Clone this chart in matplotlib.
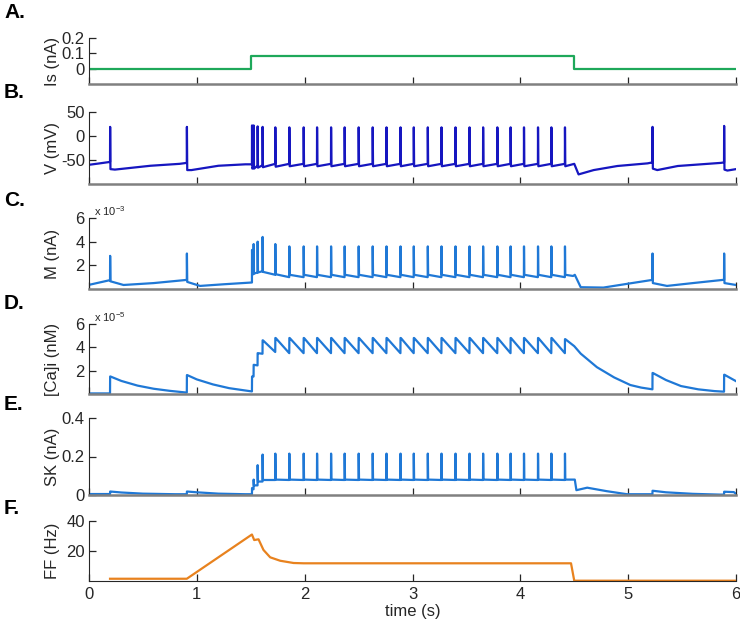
import numpy as np
import matplotlib
matplotlib.use('Agg')
import matplotlib.pyplot as plt

plt.rcParams['font.family'] = ['Liberation Sans', 'DejaVu Sans']
plt.rcParams['mathtext.fontset'] = 'custom'
plt.rcParams['mathtext.rm'] = 'Liberation Sans'
plt.rcParams['mathtext.it'] = 'Liberation Sans:italic'

# spike times (s)
spike_t = [0.195, 0.907, 1.511, 1.526, 1.563, 1.609, 1.727,
           1.857, 1.990, 2.114, 2.244, 2.370, 2.500, 2.630, 2.758, 2.888, 3.011,
           3.141, 3.268, 3.398, 3.528, 3.654, 3.786, 3.909, 4.033, 4.163, 4.287, 4.413,
           5.225, 5.889]

# A. injected current
is_t = [0.0, 1.5, 1.5, 4.5, 4.5, 6.0]
is_v = [0.0, 0.0, 0.08, 0.08, 0.0, 0.0]

# B. membrane voltage: slow part + value before / at peak / after each spike
v_slow_t = [0.0, 0.10, 0.24, 0.57, 0.84, 0.95, 1.20, 1.45,
            4.50, 4.54, 4.68, 4.90, 5.18, 5.27, 5.46, 5.86, 5.92, 6.0]
v_slow_v = [-60, -57, -70, -62, -58, -71, -62, -59,
            -58, -80, -71, -62.5, -57, -71, -62.5, -56, -72, -69]
v_pre = [-54, -56, -59, -63, -62, -61, -58,
         -58, -58, -58, -58, -58, -58, -58, -58, -58, -58,
         -58, -58, -58, -58, -58, -58, -58, -58, -58, -58, -58,
         -55, -55]
v_peak = [19, 19, 22, 22, 20, 19, 18,
          18, 18, 18, 18, 18, 18, 18, 18, 18, 18,
          18, 18, 18, 18, 18, 18, 18, 18, 18, 18, 18,
          19, 21]
v_post = [-69, -71, -68, -68, -66, -65, -64,
          -63, -63, -63, -63, -63, -63, -63, -63, -63, -63,
          -63, -63, -63, -63, -63, -63, -63, -63, -63, -63, -63,
          -68, -70]

# C. M current (x 1e-3 nA)
m_slow_t = [0.0, 0.32, 0.60, 1.03, 1.25, 4.49, 4.505, 4.56, 4.77, 5.00,
            5.36, 5.60, 6.0]
m_slow_v = [0.35, 0.34, 0.50, 0.26, 0.40, 1.10, 1.20, 0.15, 0.12, 0.45,
            0.26, 0.50, 0.34]
m_pre = [0.75, 0.77, 0.55, 1.3, 1.4, 1.5, 1.2,
         1.0, 1.0, 1.0, 1.0, 1.0, 1.0, 1.0, 1.0, 1.0, 1.0,
         1.0, 1.0, 1.0, 1.0, 1.0, 1.0, 1.0, 1.0, 1.0, 1.0, 1.0,
         0.77, 0.78]
m_peak = [2.8, 3.0, 3.3, 3.8, 4.0, 4.4, 3.8,
          3.6, 3.6, 3.6, 3.6, 3.6, 3.6, 3.6, 3.6, 3.6, 3.6,
          3.6, 3.6, 3.6, 3.6, 3.6, 3.6, 3.6, 3.6, 3.6, 3.6, 3.6,
          3.0, 3.0]
m_post = [0.65, 0.6, 1.2, 1.3, 1.4, 1.45, 1.25,
          1.2, 1.2, 1.2, 1.2, 1.2, 1.2, 1.2, 1.2, 1.2, 1.2,
          1.2, 1.2, 1.2, 1.2, 1.2, 1.2, 1.2, 1.2, 1.2, 1.2, 1.2,
          0.5, 0.5]

# D. intracellular calcium (x 1e-5 nM)
ca_slow_t = [0.0, 0.30, 0.45, 0.60, 0.75, 1.00, 1.15, 1.30, 1.45,
             4.50, 4.56, 4.71, 4.87, 5.02, 5.12, 5.35, 5.49, 5.65, 5.80, 6.0]
ca_slow_v = [0.05, 1.12, 0.72, 0.45, 0.27, 1.25, 0.82, 0.50, 0.30,
             4.10, 3.46, 2.30, 1.42, 0.77, 0.55, 1.20, 0.68, 0.40, 0.25, 1.10]
ca_pre = [0.05, 0.12, 0.22, 1.5, 2.45, 3.45, 3.6,
          3.5, 3.5, 3.5, 3.5, 3.5, 3.5, 3.5, 3.5, 3.5, 3.5,
          3.5, 3.5, 3.5, 3.5, 3.5, 3.5, 3.5, 3.5, 3.5, 3.5, 3.5,
          0.4, 0.2]
ca_jump = [1.5, 1.62, 1.5, 2.5, 3.5, 4.6, 4.8,
           4.8, 4.8, 4.8, 4.8, 4.8, 4.8, 4.8, 4.8, 4.8, 4.8,
           4.8, 4.8, 4.8, 4.8, 4.8, 4.8, 4.8, 4.8, 4.8, 4.8, 4.7,
           1.8, 1.65]

# E. SK current (nA)
sk_slow_t = [0.0, 0.30, 0.50, 0.80, 1.00, 1.20, 1.45,
             4.505, 4.52, 4.62, 4.80, 4.99, 5.35, 5.60, 5.85, 5.98, 6.0]
sk_slow_v = [0.005, 0.013, 0.007, 0.004, 0.014, 0.007, 0.004,
             0.08, 0.025, 0.038, 0.02, 0.004, 0.014, 0.006, 0.002, 0.015, 0.006]
sk_pre = [0.005, 0.004, 0.004, 0.03, 0.05, 0.07, 0.078,
          0.078, 0.078, 0.078, 0.078, 0.078, 0.078, 0.078, 0.078, 0.078, 0.078,
          0.078, 0.078, 0.078, 0.078, 0.078, 0.078, 0.078, 0.078, 0.078, 0.078, 0.078,
          0.004, 0.002]
sk_peak = [0.018, 0.018, 0.036, 0.08, 0.155, 0.21, 0.215,
           0.215, 0.215, 0.215, 0.215, 0.215, 0.215, 0.215, 0.215, 0.215, 0.215,
           0.215, 0.215, 0.215, 0.215, 0.215, 0.215, 0.215, 0.215, 0.215, 0.215, 0.215,
           0.022, 0.017]
sk_post = [0.018, 0.018, 0.03, 0.05, 0.07, 0.078, 0.08,
           0.08, 0.08, 0.08, 0.08, 0.08, 0.08, 0.08, 0.08, 0.08, 0.08,
           0.08, 0.08, 0.08, 0.08, 0.08, 0.08, 0.08, 0.08, 0.08, 0.08, 0.08,
           0.022, 0.017]

# F. firing frequency (Hz)
ff_t = [0.195, 0.907, 1.511, 1.532, 1.572, 1.618, 1.68, 1.773, 1.897, 1.99, 4.47, 4.5, 6.0]
ff_v = [1.5, 1.5, 31, 27.3, 27.8, 20.7, 15.8, 13.5, 12.0, 11.8, 11.8, 0.2, 0.2]


def trace(slow_t, slow_v, pre, peak, post):
	pts = list(zip(slow_t, slow_v))
	for t, a, b, c in zip(spike_t, pre, peak, post):
		pts += [(t, a), (t + 0.001, b), (t + 0.004, c)]
	pts.sort(key=lambda p: p[0])
	return np.array(pts).T


fig = plt.figure(figsize=(7.4, 6.24), dpi=100)
L, W = 89 / 740, 647 / 740
# (top, bottom) in pixels for each panel
boxes = [(38, 84), (112, 184), (218, 289), (324, 394), (418, 495), (521, 581)]
axes = []
for top, bot in boxes:
	ax = fig.add_axes([L, 1 - bot / 624, W, (bot - top) / 624])
	axes.append(ax)

blue = '#1f78d6'
lw = 1.6
axes[0].plot(is_t, is_v, color='#1ea85a', lw=lw)
x, y = trace(v_slow_t, v_slow_v, v_pre, v_peak, v_post)
axes[1].plot(x, y, color='#1616c0', lw=lw)
x, y = trace(m_slow_t, m_slow_v, m_pre, m_peak, m_post)
axes[2].plot(x, y, color=blue, lw=lw)
x, y = trace(ca_slow_t, ca_slow_v, ca_pre, ca_jump, ca_jump)
axes[3].plot(x, y, color=blue, lw=lw)
x, y = trace(sk_slow_t, sk_slow_v, sk_pre, sk_peak, sk_post)
axes[4].plot(x, y, color=blue, lw=lw)
axes[5].plot(ff_t, ff_v, color='#e8821e', lw=lw)

ylims = [(-0.1, 0.2), (-100, 50), (0, 6), (0, 6), (0, 0.4), (0, 40)]
yticks = [[0, 0.1, 0.2], [-50, 0, 50], [2, 4, 6], [2, 4, 6], [0, 0.2, 0.4], [20, 40]]
ytl = [['0', '0.1', '0.2'], ['-50', '0', '50'], ['2', '4', '6'], ['2', '4', '6'],
       ['0', '0.2', '0.4'], ['20', '40']]
ylabels = ['Is (nA)', 'V (mV)', 'M (nA)', '[Ca]i (nM)', 'SK (nA)', 'FF (Hz)']
letters = ['A.', 'B.', 'C.', 'D.', 'E.', 'F.']
letter_y = [13, 93, 201, 303, 405, 508]

for i, ax in enumerate(axes):
	ax.set_xlim(0, 6)
	ax.set_ylim(*ylims[i])
	ax.set_yticks(yticks[i])
	ax.set_yticklabels(ytl[i])
	ax.set_xticks([0, 1, 2, 3, 4, 5, 6])
	ax.spines['top'].set_visible(False)
	ax.spines['right'].set_visible(False)
	ax.spines['left'].set_color('#262626')
	ax.tick_params(direction='in', length=5, width=0.9, labelsize=12, colors='#262626', pad=3)
	ax.set_ylabel(ylabels[i], fontsize=12, color='#262626')
	ax.yaxis.set_label_coords(-0.045, 0.5)
	fig.text(4 / 740, 1 - letter_y[i] / 624, letters[i], fontsize=15, fontweight='bold',
	         va='center', ha='left')
	if i < 5:
		ax.spines['bottom'].set_color('#808080')
		ax.spines['bottom'].set_linewidth(1.8)
		ax.set_xticklabels([])
	else:
		ax.spines['bottom'].set_color('#262626')
		ax.tick_params(axis='x', pad=4)
		ax.set_xlabel('time (s)', fontsize=12, color='#262626', labelpad=2)

axes[2].text(0.008, 1.0, r'x 10$^{-3}$', transform=axes[2].transAxes, fontsize=8,
             color='#262626', va='bottom', ha='left')
axes[3].text(0.008, 1.0, r'x 10$^{-5}$', transform=axes[3].transAxes, fontsize=8,
             color='#262626', va='bottom', ha='left')

plt.savefig('out.png', dpi=100)
